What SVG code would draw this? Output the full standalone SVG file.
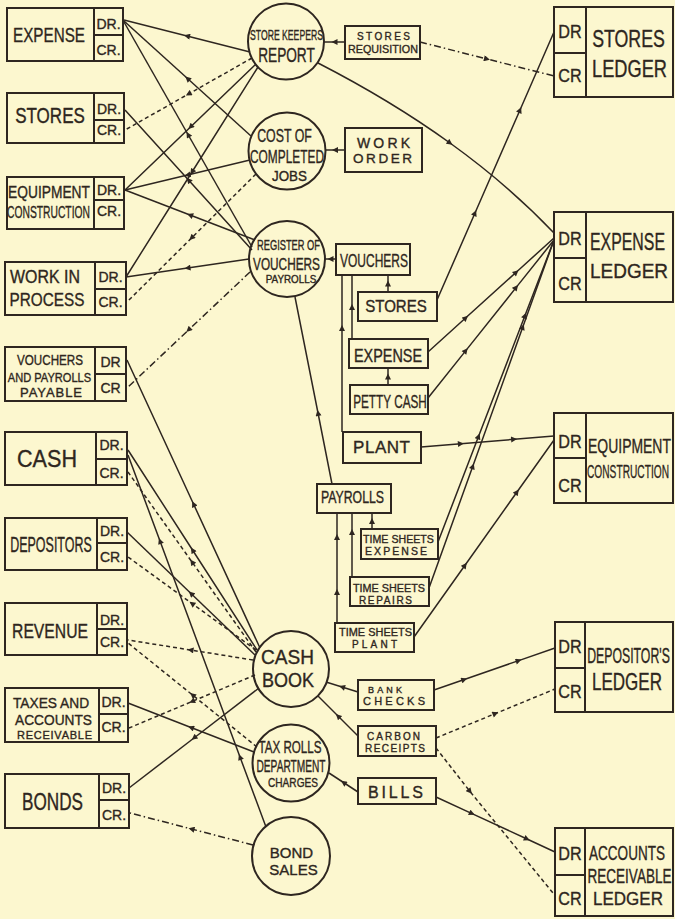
<svg xmlns="http://www.w3.org/2000/svg" width="675" height="919" viewBox="0 0 675 919">
<defs>
<marker id="arr" viewBox="0 0 10 10" refX="5" refY="5" markerWidth="7" markerHeight="6" markerUnits="userSpaceOnUse" orient="auto">
<path d="M0,0 L10,5 L0,10 z" fill="#2e2620"/>
</marker>
</defs>
<style>
.bg{fill:#fcf7cf}
.box{fill:none;stroke:#2e2620;stroke-width:2}
.ln{fill:none;stroke:#2e2620;stroke-width:1.5;marker-mid:url(#arr)}
.dash{stroke-dasharray:4 3}
.dd{stroke-dasharray:7 3 1.5 3}
text{font-family:"Liberation Sans",Arial,sans-serif;fill:#2e2620;stroke:#2e2620;stroke-width:0.35;text-anchor:middle}
.dc{font-size:14px}
.rd{font-size:18px}
</style>
<rect class="bg" x="0" y="0" width="675" height="919"/>

<g id="connectors">
<path class="ln" d="M250,52 L187,36 L124,20"/>
<path class="ln" d="M251,136 L187.5,78.5 L124,21"/>
<path class="ln" d="M252,247 L188,134.5 L124,22"/>
<path class="ln" d="M252,250 L188.5,180 L125,110"/>
<path class="ln dash" d="M252,58 L188.5,94 L125,130"/>
<path class="ln" d="M256,64 L190.5,127 L125,190"/>
<path class="ln" d="M250,160 L187.5,175 L125,190"/>
<path class="ln" d="M255,240 L190,215 L125,190"/>
<path class="ln" d="M258,67 L192,172 L126,277"/>
<path class="ln" d="M249,259 L187.5,268 L126,277"/>
<path class="ln dash" d="M256,174 L191.5,238 L127,302"/>
<path class="ln dd" d="M250,272 L188.5,330 L127,388"/>
<path class="ln" d="M260,648 L193.5,504 L127,360"/>
<path class="ln" d="M257,650 L192.5,550 L128,450"/>
<path class="ln dash" d="M256,652 L192,562 L128,472"/>
<path class="ln" d="M266,827 L240,757 L160,541 L128,455"/>
<path class="ln" d="M255,655 L191,593.5 L127,532"/>
<path class="ln dash" d="M256,650 L192,603.5 L128,557"/>
<path class="ln dash" d="M253,660 L190.5,650 L128,640"/>
<path class="ln dash" d="M257,747 L192.5,695 L128,643"/>
<path class="ln" d="M254,752 L191,727.5 L128,703"/>
<path class="ln dash" d="M255,675 L192,701.5 L129,728"/>
<path class="ln" d="M259,688 L194,738 L129,788"/>
<path class="ln dd" d="M253,845 L191.5,829 L130,813"/>

<path class="ln" d="M345,42 L334.5,42 L324,42"/>
<path class="ln dd" d="M420,42 L487,59 L554,76"/>
<path class="ln" d="M318,63 Q391,100.5 450,143 Q509,185.5 554,233"/>
<path class="ln" d="M345,150 L335,150 L325,150"/>
<path class="ln" d="M336,259 L330.5,259 L325,259"/>
<path class="ln" d="M388,292 L388,283.5 L388,275"/>
<path class="ln" d="M437,300 L475,213 L520,110 L554,32"/>
<path class="ln" d="M352,339 L352,307 L352,275"/>
<path class="ln" d="M388,385 L388,376.5 L388,368"/>
<path class="ln" d="M342,432 L342,328 L342,275"/>
<path class="ln" d="M428,352 L465.8,317.8 L516.2,272.2 L554,238"/>
<path class="ln" d="M428,398 L465.8,350.6 L516.2,287.4 L554,240"/>
<path class="ln" d="M421,447 L460.9,443.7 L514.1,439.3 L554,436"/>
<path class="ln" d="M332,484 L318,413 L295,297"/>
<path class="ln" d="M372,529 L372,521 L372,513"/>
<path class="ln" d="M352,577 L352,532 L352,513"/>
<path class="ln" d="M337,623 L337,592 L337,537 L337,513"/>
<path class="ln" d="M438,542 L478.6,436.3 L525,315.5 L554,240"/>
<path class="ln" d="M429,588 L472.8,466.2 L522.8,327 L554,240"/>
<path class="ln" d="M414,637 L465,565.2 L517,492 L554,440"/>
<path class="ln" d="M358,692 L342,687 L326,682"/>
<path class="ln" d="M434,690 L464.3,679.5 L518.7,660.6 L555,648"/>
<path class="ln" d="M358,736 L338,716 L318,696"/>
<path class="ln dash" d="M436,738 L495.5,713.5 L555,689"/>
<path class="ln dash" d="M436,748 L470,791.5 L553,893"/>
<path class="ln" d="M358,792 L343.5,782.5 L329,773"/>
<path class="ln" d="M436,797 L472,813.6 L527,839 L555,852"/>
</g>

<g id="acct-expense">
<rect class="box" x="7" y="8" width="116" height="53"/>
<path class="box" d="M94,8 V61 M94,35 H123"/>
<text transform="translate(49,42) scale(0.726,1)" font-size="21">EXPENSE</text>
<text class="dc" x="108.5" y="29">DR.</text>
<text class="dc" x="108.5" y="55">CR.</text>
</g>
<g id="acct-stores">
<rect class="box" x="7" y="93" width="117" height="50"/>
<path class="box" d="M94,93 V143 M94,120 H124"/>
<text transform="translate(50,123) scale(0.774,1)" font-size="22">STORES</text>
<text class="dc" x="109" y="114">DR.</text>
<text class="dc" x="109" y="135">CR.</text>
</g>
<g id="acct-equipment">
<rect class="box" x="7" y="177" width="117" height="52"/>
<path class="box" d="M94,177 V229 M94,200 H124"/>
<text transform="translate(49,198) scale(0.811,1)" font-size="17">EQUIPMENT</text>
<text transform="translate(48.5,217.5) scale(0.606,1)" font-size="17">CONSTRUCTION</text>
<text class="dc" x="109" y="195">DR.</text>
<text class="dc" x="109" y="216">CR.</text>
</g>
<g id="acct-wip">
<rect class="box" x="5" y="262" width="121" height="53"/>
<path class="box" d="M95,262 V315 M95,289 H126"/>
<text transform="translate(45,283) scale(0.886,1)" font-size="18">WORK IN</text>
<text transform="translate(47,306) scale(0.807,1)" font-size="19">PROCESS</text>
<text class="dc" x="110.5" y="282">DR.</text>
<text class="dc" x="110.5" y="307">CR.</text>
</g>
<g id="acct-vouchers-payable">
<rect class="box" x="5" y="347" width="121" height="54"/>
<path class="box" d="M95,347 V401 M95,374 H126"/>
<text transform="translate(50,365) scale(0.832,1)" font-size="14">VOUCHERS</text>
<text transform="translate(49.5,381.5) scale(0.853,1)" font-size="13">AND PAYROLLS</text>
<text x="51" y="397" font-size="13" textLength="62">PAYABLE</text>
<text class="dc" x="110.5" y="367">DR</text>
<text class="dc" x="110.5" y="393">CR</text>
</g>
<g id="acct-cash">
<rect class="box" x="5" y="432" width="122" height="53"/>
<path class="box" d="M96,432 V485 M96,459 H127"/>
<text transform="translate(47,467) scale(0.939,1)" font-size="23">CASH</text>
<text class="dc" x="111.5" y="450">DR.</text>
<text class="dc" x="111.5" y="478">CR.</text>
</g>
<g id="acct-depositors">
<rect class="box" x="5" y="518" width="122" height="52"/>
<path class="box" d="M97,518 V570 M97,543 H127"/>
<text transform="translate(51,552) scale(0.568,1)" font-size="22">DEPOSITORS</text>
<text class="dc" x="112" y="536">DR.</text>
<text class="dc" x="112" y="562">CR.</text>
</g>
<g id="acct-revenue">
<rect class="box" x="5" y="603" width="122" height="52"/>
<path class="box" d="M97,603 V655 M97,629 H127"/>
<text transform="translate(50,638) scale(0.786,1)" font-size="20">REVENUE</text>
<text class="dc" x="112" y="625">DR.</text>
<text class="dc" x="112" y="647">CR.</text>
</g>
<g id="acct-taxes">
<rect class="box" x="5" y="688" width="123" height="54"/>
<path class="box" d="M99,688 V742 M99,714 H128"/>
<text transform="translate(51,708) scale(0.918,1)" font-size="15">TAXES AND</text>
<text transform="translate(53.5,725) scale(0.915,1)" font-size="15">ACCOUNTS</text>
<text x="54.5" y="739" font-size="11" textLength="75">RECEIVABLE</text>
<text class="dc" x="113.5" y="707">DR.</text>
<text class="dc" x="113.5" y="732">CR.</text>
</g>
<g id="acct-bonds">
<rect class="box" x="5" y="774" width="124" height="54"/>
<path class="box" d="M99,774 V828 M99,800 H129"/>
<text transform="translate(52.5,810) scale(0.746,1)" font-size="23">BONDS</text>
<text class="dc" x="114" y="793">DR.</text>
<text class="dc" x="114" y="820">CR.</text>
</g>

<g id="ledger-stores">
<rect class="box" x="554" y="7" width="119" height="90"/>
<path class="box" d="M586,7 V97 M554,53 H586"/>
<text class="rd" transform="translate(570,38) scale(0.9,1)">DR</text>
<text class="rd" transform="translate(570,82) scale(0.9,1)">CR</text>
<text transform="translate(628.5,47) scale(0.772,1)" font-size="23">STORES</text>
<text transform="translate(629.5,77) scale(0.793,1)" font-size="23">LEDGER</text>
</g>
<g id="ledger-expense">
<rect class="box" x="554" y="212" width="119" height="90"/>
<path class="box" d="M586,212 V302 M554,258 H586"/>
<text class="rd" transform="translate(570,245) scale(0.9,1)">DR</text>
<text class="rd" transform="translate(570,290) scale(0.9,1)">CR</text>
<text transform="translate(627.5,250) scale(0.69,1)" font-size="23">EXPENSE</text>
<text transform="translate(629,278) scale(0.903,1)" font-size="21">LEDGER</text>
</g>
<g id="ledger-equipment">
<rect class="box" x="554" y="413" width="119" height="90"/>
<path class="box" d="M586,413 V503 M554,458 H586"/>
<text class="rd" transform="translate(570,448) scale(0.9,1)">DR</text>
<text class="rd" transform="translate(570,492) scale(0.9,1)">CR</text>
<text transform="translate(629.5,453) scale(0.698,1)" font-size="20">EQUIPMENT</text>
<text transform="translate(628,478) scale(0.536,1)" font-size="19">CONSTRUCTION</text>
</g>
<g id="ledger-depositors">
<rect class="box" x="555" y="622" width="118" height="90"/>
<path class="box" d="M585,622 V712 M555,668 H585"/>
<text class="rd" transform="translate(570,653) scale(0.9,1)">DR</text>
<text class="rd" transform="translate(570,698) scale(0.9,1)">CR</text>
<text transform="translate(628.5,663) scale(0.559,1)" font-size="22">DEPOSITOR'S</text>
<text transform="translate(627,690) scale(0.74,1)" font-size="23">LEDGER</text>
</g>
<g id="ledger-accounts-receivable">
<rect class="box" x="555" y="828" width="118" height="88"/>
<path class="box" d="M585,828 V916 M555,875 H585"/>
<text class="rd" transform="translate(570,860) scale(0.9,1)">DR</text>
<text class="rd" transform="translate(570,905) scale(0.9,1)">CR</text>
<text transform="translate(627,860) scale(0.645,1)" font-size="21">ACCOUNTS</text>
<text transform="translate(629.5,883) scale(0.677,1)" font-size="20">RECEIVABLE</text>
<text transform="translate(628,905) scale(0.896,1)" font-size="19">LEDGER</text>
</g>

<g id="store-keepers-report">
<circle class="box" cx="286" cy="41.5" r="38"/>
<text transform="translate(286.5,40) scale(0.576,1)" font-size="15">STORE KEEPERS</text>
<text transform="translate(286.5,62) scale(0.684,1)" font-size="20">REPORT</text>
</g>
<g id="cost-of-completed-jobs">
<circle class="box" cx="287" cy="151" r="38.5"/>
<text transform="translate(284.5,141.5) scale(0.687,1)" font-size="18">COST OF</text>
<text transform="translate(287,163) scale(0.626,1)" font-size="19">COMPLETED</text>
<text transform="translate(289.5,181) scale(0.957,1)" font-size="14">JOBS</text>
</g>
<g id="register-of-vouchers">
<circle class="box" cx="287" cy="259" r="38"/>
<text transform="translate(288.5,250) scale(0.664,1)" font-size="14">REGISTER OF</text>
<text transform="translate(286.5,270) scale(0.739,1)" font-size="16">VOUCHERS</text>
<text transform="translate(291,283) scale(0.985,1)" font-size="10">PAYROLLS</text>
</g>
<g id="cash-book">
<circle class="box" cx="291" cy="669" r="38"/>
<text transform="translate(287.5,664) scale(0.954,1)" font-size="20">CASH</text>
<text transform="translate(288,687) scale(0.9,1)" font-size="20">BOOK</text>
</g>
<g id="tax-rolls">
<circle class="box" cx="291" cy="763" r="38.5"/>
<text transform="translate(290,753) scale(0.684,1)" font-size="17">TAX ROLLS</text>
<text transform="translate(291,772) scale(0.635,1)" font-size="16">DEPARTMENT</text>
<text transform="translate(293,787) scale(0.843,1)" font-size="12">CHARGES</text>
</g>
<g id="bond-sales">
<circle class="box" cx="291" cy="856" r="39"/>
<text x="291.5" y="857.5" font-size="15">BOND</text>
<text x="293.5" y="875" font-size="15">SALES</text>
</g>

<g id="stores-requisition">
<rect class="box" x="345" y="26" width="75" height="33"/>
<text x="383.5" y="39.5" font-size="10" textLength="53">STORES</text>
<text transform="translate(383,53) scale(0.936,1)" font-size="11.5">REQUISITION</text>
</g>
<g id="work-order">
<rect class="box" x="345" y="128" width="77" height="44"/>
<text x="383.5" y="147.5" font-size="14" textLength="53">WORK</text>
<text x="382.5" y="163" font-size="13.5" textLength="59">ORDER</text>
</g>
<g id="vouchers">
<rect class="box" x="336" y="244" width="74" height="31"/>
<text transform="translate(374,267) scale(0.667,1)" font-size="18">VOUCHERS</text>
</g>
<g id="stores-doc">
<rect class="box" x="358" y="292" width="79" height="29"/>
<text transform="translate(396,312) scale(0.942,1)" font-size="16">STORES</text>
</g>
<g id="expense-doc">
<rect class="box" x="349" y="339" width="79" height="29"/>
<text transform="translate(388,362) scale(0.8,1)" font-size="18">EXPENSE</text>
</g>
<g id="petty-cash">
<rect class="box" x="350" y="385" width="78" height="29"/>
<text transform="translate(390,408) scale(0.62,1)" font-size="19">PETTY CASH</text>
</g>
<g id="plant">
<rect class="box" x="343" y="432" width="78" height="31"/>
<text x="381.5" y="453" font-size="17" textLength="57">PLANT</text>
</g>
<g id="payrolls">
<rect class="box" x="317" y="484" width="74" height="29"/>
<text transform="translate(352.5,503) scale(0.769,1)" font-size="16">PAYROLLS</text>
</g>
<g id="time-sheets-expense">
<rect class="box" x="361" y="529" width="77" height="30"/>
<text transform="translate(398.5,542.5) scale(0.968,1)" font-size="11">TIME SHEETS</text>
<text x="396" y="555" font-size="10.5" textLength="62">EXPENSE</text>
</g>
<g id="time-sheets-repairs">
<rect class="box" x="350" y="577" width="79" height="29"/>
<text transform="translate(389,591.5) scale(0.982,1)" font-size="11">TIME SHEETS</text>
<text x="385.5" y="603.5" font-size="10" textLength="53">REPAIRS</text>
</g>
<g id="time-sheets-plant">
<rect class="box" x="335" y="623" width="79" height="29"/>
<text transform="translate(375.5,635.5) scale(0.996,1)" font-size="11">TIME SHEETS</text>
<text x="374.5" y="647.5" font-size="10" textLength="45">PLANT</text>
</g>
<g id="bank-checks">
<rect class="box" x="358" y="680" width="76" height="30"/>
<text x="385" y="692.5" font-size="9" textLength="34">BANK</text>
<text x="394" y="705" font-size="11" textLength="62">CHECKS</text>
</g>
<g id="carbon-receipts">
<rect class="box" x="358" y="726" width="78" height="30"/>
<text x="393.5" y="739.5" font-size="10" textLength="53">CARBON</text>
<text x="395" y="751.5" font-size="10" textLength="60">RECEIPTS</text>
</g>
<g id="bills">
<rect class="box" x="358" y="778" width="78" height="26"/>
<text x="395.5" y="798" font-size="16" textLength="55">BILLS</text>
</g>
</svg>
